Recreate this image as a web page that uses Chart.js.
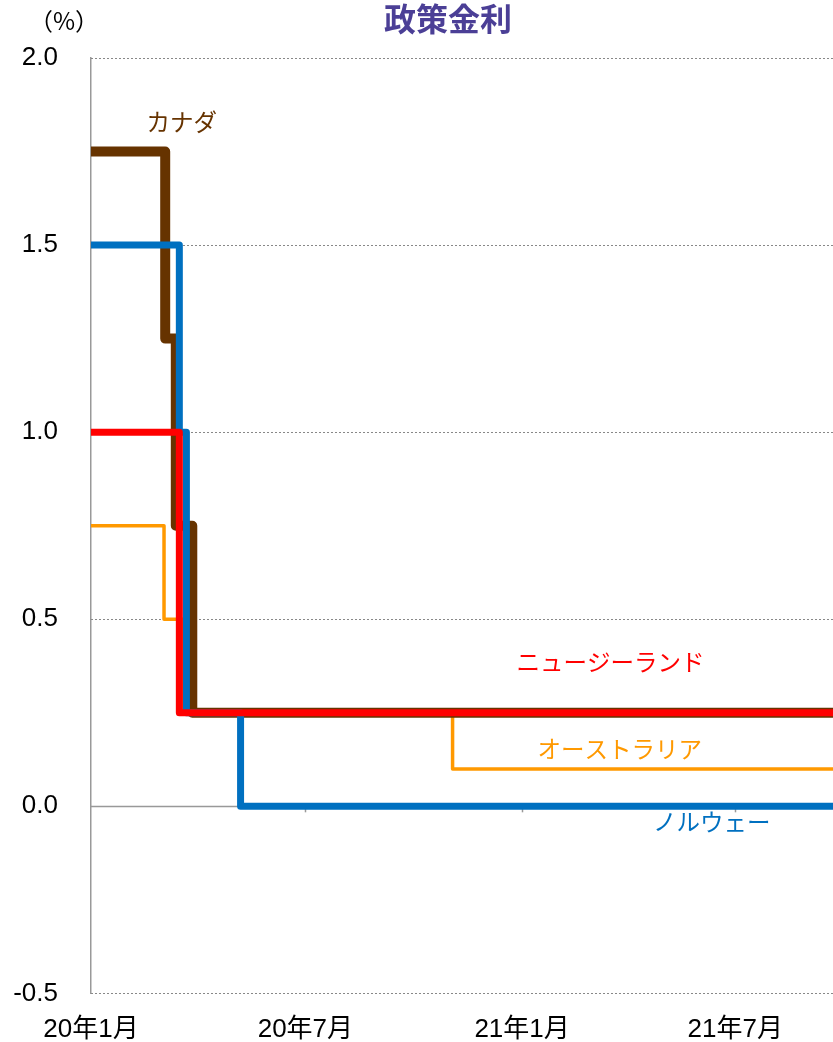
<!DOCTYPE html>
<html lang="ja">
<head>
<meta charset="utf-8">
<script src="https://cdn.jsdelivr.net/npm/chart.js@4.4.1/dist/chart.umd.min.js"></script>
<style>
  html, body { margin: 0; padding: 0; background: #fff; overflow: hidden; }
  #wrap { width: 833px; height: 1042px; position: relative; }
</style>
</head>
<body>
<div id="wrap"><canvas id="graficoTipos"></canvas></div>
<script>
// datos (fecha de cambio -> tipo)
const canadaFechas = ['2020-01-01', '2020-03-04', '2020-03-13', '2020-03-27', '2021-12-31'];
const canadaTipos = [1.75, 1.25, 0.75, 0.25, 0.25];

const noruegaFechas = ['2020-01-01', '2020-03-16', '2020-03-22', '2020-05-07', '2021-12-31'];
const noruegaTipos = [1.5, 1.0, 0.25, 0.0, 0.0];

const nzFechas = ['2020-01-01', '2020-03-16', '2021-12-31'];
const nzTipos = [1.0, 0.25, 0.25];

const australiaFechas = ['2020-01-01', '2020-03-03', '2020-03-19', '2020-11-03', '2021-12-31'];
const australiaTipos = [0.75, 0.5, 0.25, 0.1, 0.1];

const etiquetasX = ['20年1月', '20年7月', '21年1月', '21年7月'];
const fechasTicksX = ['2020-01-01', '2020-07-01', '2021-01-01', '2021-07-01'];
const ticksY = [-0.5, 0.0, 0.5, 1.0, 1.5, 2.0];

// dias desde 2020-01-01
function dia(f) {
    const p = f.split('-');
    return (Date.UTC(+p[0], +p[1] - 1, +p[2]) - Date.UTC(2020, 0, 1)) / 864e5;
}
function puntos(fechas, tipos) {
    return fechas.map((f, i) => ({ x: dia(f), y: tipos[i] }));
}
const diasTicks = fechasTicksX.map(dia);

// etiquetas de las series (en coordenadas de datos)
const rotulos = [
    { texto: 'カナダ', x: 77, y: 1.83, color: '#663300' },
    { texto: 'ニュージーランド', x: 441, y: 0.386, color: '#FF0000' },
    { texto: 'オーストラリア', x: 449, y: 0.154, color: '#FF9900' },
    { texto: 'ノルウェー', x: 527, y: -0.042, color: '#0070C0' }
];

const jp = '"Noto Sans CJK JP", "Liberation Sans", sans-serif';

const pluginTextos = {
    id: 'textos',
    beforeDatasetsDraw(chart) {
        const { ctx, scales, chartArea } = chart;
        const y0 = scales.y.getPixelForValue(0);
        ctx.save();
        // lineas de cuadricula punteadas (la de cero continua)
        ticksY.forEach(v => {
            const py = Math.round(scales.y.getPixelForValue(v)) + 0.5;
            ctx.beginPath();
            if (v === 0) {
                ctx.setLineDash([]);
                ctx.strokeStyle = '#999';
                ctx.lineWidth = 1.5;
            } else {
                ctx.setLineDash([2, 2]);
                ctx.strokeStyle = '#888';
                ctx.lineWidth = 1;
            }
            ctx.moveTo(chartArea.left, py);
            ctx.lineTo(chartArea.right, py);
            ctx.stroke();
        });
        // marcas pequeñas del eje x sobre la linea de cero
        ctx.setLineDash([]);
        ctx.strokeStyle = '#999';
        ctx.lineWidth = 1.5;
        diasTicks.slice(1).forEach(d => {
            const px = Math.round(scales.x.getPixelForValue(d)) + 0.5;
            ctx.beginPath();
            ctx.moveTo(px, y0);
            ctx.lineTo(px, y0 + 6);
            ctx.stroke();
        });
        ctx.restore();
    },
    afterDraw(chart) {
        const { ctx, scales } = chart;
        ctx.save();
        ctx.textAlign = 'center';
        ctx.textBaseline = 'middle';
        ctx.fillStyle = '#4B3F96';
        ctx.font = 'bold 32px ' + jp;
        ctx.fillText('政策金利', 448, 19);
        ctx.fillStyle = '#000';
        ctx.font = '24px ' + jp;
        ctx.fillText('（%）', 64, 21);
        ctx.font = '23.5px ' + jp;
        rotulos.forEach(r => {
            ctx.fillStyle = r.color;
            ctx.fillText(r.texto, scales.x.getPixelForValue(r.x), scales.y.getPixelForValue(r.y));
        });
        ctx.restore();
    }
};

const serie = (label, fechas, tipos, color, ancho, orden) => ({
    label: label,
    data: puntos(fechas, tipos),
    borderColor: color,
    backgroundColor: color,
    borderWidth: ancho,
    stepped: true,
    pointRadius: 0,
    borderJoinStyle: 'round',
    fill: false,
    order: orden
});

new Chart(document.getElementById('graficoTipos'), {
    type: 'line',
    data: {
        datasets: [
            serie('ニュージーランド', nzFechas, nzTipos, '#FF0000', 7, 0),
            serie('ノルウェー', noruegaFechas, noruegaTipos, '#0070C0', 7, 1),
            serie('カナダ', canadaFechas, canadaTipos, '#663300', 10, 2),
            serie('オーストラリア', australiaFechas, australiaTipos, '#FF9900', 3.5, 3)
        ]
    },
    options: {
        responsive: true,
        maintainAspectRatio: false,
        animation: false,
        layout: { padding: { top: 58, left: 0, right: 0, bottom: 0 } },
        plugins: {
            legend: { display: false },
            tooltip: { enabled: false },
            title: { display: false }
        },
        scales: {
            x: {
                type: 'linear',
                min: 0,
                max: 630,
                afterBuildTicks: s => { s.ticks = diasTicks.map(v => ({ value: v })); },
                afterFit: s => { s.height = 47; },
                grid: { display: false },
                border: { display: false },
                ticks: {
                    autoSkip: false,
                    maxRotation: 0,
                    padding: 13,
                    color: '#000',
                    font: { size: 26, family: '"Liberation Sans", "Noto Sans CJK JP", sans-serif' },
                    callback: (v) => etiquetasX[diasTicks.indexOf(v)]
                }
            },
            y: {
                min: -0.5,
                max: 2.0,
                afterBuildTicks: s => { s.ticks = ticksY.map(v => ({ value: v })); },
                afterFit: s => { s.width = 91; },
                border: { display: true, color: '#999', width: 1.5 },
                grid: { display: false, drawTicks: false },
                ticks: {
                    padding: 33,
                    color: '#000',
                    font: { size: 26, family: '"Liberation Sans", Arial, sans-serif' },
                    callback: v => v.toFixed(1)
                }
            }
        }
    },
    plugins: [pluginTextos]
});
</script>
</body>
</html>
